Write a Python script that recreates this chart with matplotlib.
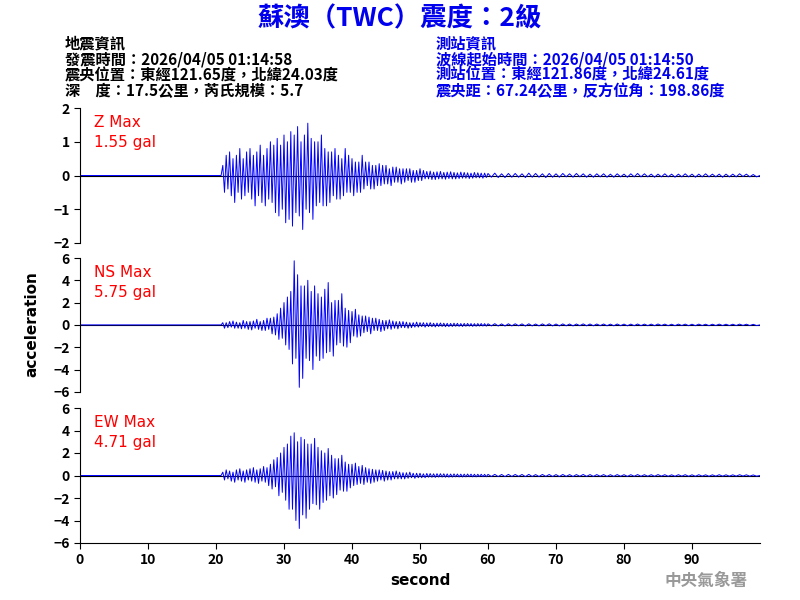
import matplotlib
matplotlib.use("Agg")
import matplotlib.pyplot as plt
import numpy as np

plt.rcParams['font.family'] = ['Noto Sans CJK TC', 'DejaVu Sans']

z_dense = [0,0,0,0, .3,-.5,.6,-.4, .7,-.6,.5,-.8, .6,-.5,.8,-.7, .5,-.6,.7,-.5, .8,-.7,.6,-.9,
  .7,-.6,.9,-.8, .6,-.9,.8,-.7, 1.0,-.8,.9,-1.1, 1.1,-1.2,.9,-1.0, 1.2,-1.4,1.0,-1.3,
  1.3,-1.5,1.2,-1.1, 1.45,-1.2,1.0,-1.6, 1.2,-1.0,1.55,-1.1, 1.1,-1.3,1.0,-.9, 1.0,-.8,1.2,-.9,
  .8,-.9,.7,-.8, .7,-.6,.8,-.7, .6,-.7,.5,-.6, .8,-.5,.6,-.5, .5,-.6,.4,-.5, .4,-.5,.6,-.4,
  .4,-.3,.4,-.4, .3,-.4,.3,-.3, .35,-.3,.3,-.25, .3,-.25,.2,-.3, .25,-.2,.25,-.2, .2,-.25,.2,-.2,
  .2,-.15,.2,-.2, .15,-.2,.15,-.15, .2,-.15,.15,-.1,
  .12,-.1,.13,-.12, .1,-.12,.11,-.1, .12,-.1,.09,-.11, .1,-.09,.11,-.1, .09,-.1,.08,-.09,
  .1,-.08,.09,-.08, .08,-.09,.07,-.08, .09,-.07,.08,-.07, .07,-.08,.07,-.06]
z_tail = [.06,-.05,.07,-.06,.05,-.06,.06,-.05, .06,-.05,.05,-.06,.07,-.05,.06,-.05,
  .05,-.06,.06,-.05,.05,-.05,.06,-.04, .05,-.05,.06,-.04,.05,-.05,.04,-.05,
  .05,-.04,.05,-.05,.04,-.05,.05,-.04, .04,-.05,.05,-.04,.06,-.04,.05,-.04,
  .04,-.05,.04,-.04,.05,-.04,.04,-.05, .04,-.04,.05,-.04,.04,-.05,.04,-.04,
  .05,-.04,.04,-.04,.04,-.05,.04,-.04, .04,-.04,.05,-.03,.04,-.04,.03,-.04]

ns_dense = [0,0,0,0, .2,-.3,.2,-.25, .3,-.2,.35,-.3, .25,-.3,.2,-.35, .4,-.3,.3,-.4, .3,-.45,.35,-.3,
  .5,-.4,.3,-.5, .4,-.5,.6,-.4, .6,-.8,.7,-.9, 1.0,-1.3,1.5,-1.2, 2.0,-1.8,2.5,-2.2,
  3.0,-3.5,5.75,-3.0, 4.5,-5.6,3.5,-4.8, 3.5,-3.0,4.0,-3.2, 3.0,-4.0,3.5,-2.8, 2.8,-3.2,2.5,-3.0,
  3.2,-2.5,3.8,-2.4, 2.0,-2.8,2.2,-1.8, 2.2,-1.6,2.8,-1.9, 1.5,-2.0,1.3,-1.6, 1.2,-1.0,1.4,-1.1,
  .9,-1.0,.8,-.7, .8,-.6,.7,-.8, .6,-.5,.6,-.5, .5,-.6,.4,-.5, .4,-.35,.45,-.4, .35,-.3,.3,-.35,
  .3,-.25,.3,-.25, .25,-.3,.2,-.25, .2,-.2,.25,-.2, .2,-.15,.2,-.2,
  .18,-.15,.2,-.16, .15,-.18,.16,-.14, .17,-.14,.15,-.16, .14,-.15,.13,-.14, .15,-.12,.14,-.13,
  .12,-.14,.13,-.12, .13,-.11,.12,-.13, .11,-.12,.12,-.1, .12,-.1,.11,-.11]
ns_tail = [.1,-.09,.11,-.1,.09,-.1,.1,-.09, .1,-.08,.09,-.1,.1,-.09,.08,-.09,
  .09,-.08,.1,-.09,.08,-.09,.09,-.08, .08,-.09,.08,-.07,.09,-.08,.08,-.08,
  .08,-.07,.08,-.08,.07,-.08,.08,-.07, .07,-.08,.07,-.07,.08,-.07,.07,-.07,
  .07,-.07,.08,-.06,.07,-.07,.06,-.07, .07,-.06,.07,-.07,.06,-.07,.07,-.06,
  .06,-.07,.06,-.06,.07,-.06,.06,-.06, .06,-.06,.07,-.05,.06,-.06,.05,-.06]

ew_dense = [0,0,0,0, .3,-.4,.5,-.3, .4,-.5,.3,-.6, .5,-.4,.6,-.5, .4,-.6,.5,-.4, .6,-.5,.7,-.6,
  .5,-.7,.6,-.5, .8,-.6,.7,-.9, 1.0,-1.2,1.4,-1.0, 1.6,-1.8,2.0,-1.5, 2.5,-2.2,2.8,-3.0,
  3.5,-3.0,3.8,-4.0, 3.0,-4.71,3.4,-3.5, 3.2,-3.8,2.8,-3.0, 2.8,-2.5,3.3,-2.6, 2.5,-3.0,2.2,-2.4,
  2.0,-2.2,2.4,-1.8, 1.8,-2.0,1.5,-1.7, 1.5,-1.3,1.8,-1.4, 1.2,-1.4,1.0,-1.1, 1.0,-.9,1.1,-.8,
  .8,-.7,.9,-.8, .7,-.6,.6,-.7, .55,-.6,.5,-.5, .5,-.4,.45,-.5, .4,-.4,.35,-.4, .35,-.3,.4,-.3,
  .3,-.3,.25,-.3, .25,-.25,.3,-.2, .2,-.25,.2,-.2, .2,-.2,.15,-.2,
  .18,-.15,.17,-.16, .15,-.17,.16,-.14, .16,-.14,.15,-.15, .14,-.15,.13,-.14, .14,-.12,.13,-.13,
  .12,-.13,.12,-.12, .13,-.11,.12,-.12, .11,-.12,.11,-.1, .11,-.1,.1,-.11]
ew_tail = [.1,-.09,.1,-.1,.09,-.1,.1,-.09, .09,-.08,.09,-.1,.1,-.09,.08,-.09,
  .09,-.08,.09,-.09,.08,-.09,.09,-.08, .08,-.09,.08,-.07,.09,-.08,.08,-.08,
  .08,-.07,.08,-.08,.07,-.08,.08,-.07, .07,-.08,.07,-.07,.08,-.07,.07,-.07,
  .07,-.07,.08,-.06,.07,-.07,.06,-.07, .07,-.06,.07,-.07,.06,-.07,.07,-.06,
  .06,-.07,.06,-.06,.07,-.06,.06,-.06, .06,-.06,.07,-.05,.06,-.06,.05,-.06]

labels = ["Z Max", "NS Max", "EW Max"]
maxes = ["1.55 gal", "5.75 gal", "4.71 gal"]
ylims = [(-2, 2), (-6, 6), (-6, 6)]
yticks = [[-2, -1, 0, 1, 2], [-6, -4, -2, 0, 2, 4, 6], [-6, -4, -2, 0, 2, 4, 6]]
xticks = [0, 10, 20, 30, 40, 50, 60, 70, 80, 90]

t_dense = 20 + 0.25 * np.arange(len(z_dense))
t_tail = 60 + 0.5 * np.arange(len(z_tail))

fig = plt.figure(figsize=(8, 6), dpi=100)
boxes = [(0.1, 0.595, 0.85, 0.225), (0.1, 0.347, 0.85, 0.223), (0.1, 0.095, 0.85, 0.225)]
series = [(z_dense, z_tail), (ns_dense, ns_tail), (ew_dense, ew_tail)]
for i, (box, (d, tl)) in enumerate(zip(boxes, series)):
    ax = fig.add_axes(box)
    t = np.concatenate([[0], t_dense, t_tail, [100]])
    v = np.concatenate([[0], d, tl, [0]])
    ax.axhline(0, color='black', lw=0.8)
    ax.plot(t, v, color='blue', lw=0.7)
    ax.set_xlim(0, 100)
    ax.set_ylim(*ylims[i])
    ax.set_yticks(yticks[i])
    for s in ['top', 'right']:
        ax.spines[s].set_visible(False)
    ax.tick_params(labelsize=10, direction='out', length=4)
    for lab in ax.get_yticklabels():
        lab.set_fontweight('bold')
    ax.text(0.02, 0.95, labels[i], transform=ax.transAxes, color='red', fontsize=11, va='top', family='DejaVu Sans')
    ax.text(0.02, 0.80, maxes[i], transform=ax.transAxes, color='red', fontsize=11, va='top', family='DejaVu Sans')
    if i < 2:
        ax.spines['bottom'].set_visible(False)
        ax.set_xticks([])
    else:
        ax.set_xticks(xticks)
        for lab in ax.get_xticklabels():
            lab.set_fontweight('bold')
        ax.set_xlabel('second', fontsize=11, fontweight='bold', family='DejaVu Sans')

fig.text(0.04, 0.46, 'acceleration', rotation=90, ha='center', va='center', fontsize=11, fontweight='bold', family='DejaVu Sans')
fig.text(0.5, 0.968, '蘇澳（TWC）震度：2級', ha='center', va='center', fontsize=19, fontweight='bold', color='#0000ee')
left = ['地震資訊', '發震時間：2026/04/05 01:14:58', '震央位置：東經121.65度，北緯24.03度', '深　度：17.5公里，芮氏規模：5.7']
right = ['測站資訊', '波線起始時間：2026/04/05 01:14:50', '測站位置：東經121.86度，北緯24.61度', '震央距：67.24公里，反方位角：198.86度']
ys = [0.927, 0.901, 0.875, 0.849]
for y, a, b in zip(ys, left, right):
    fig.text(0.081, y, a, fontsize=11, fontweight='bold', color='black', va='center')
    fig.text(0.545, y, b, fontsize=11, fontweight='bold', color='#0000ee', va='center')
fig.text(0.935, 0.032, '中央氣象署', ha='right', va='center', fontsize=12, fontweight='bold', color='#999999')
fig.savefig('out.png', dpi=100, facecolor='white')
